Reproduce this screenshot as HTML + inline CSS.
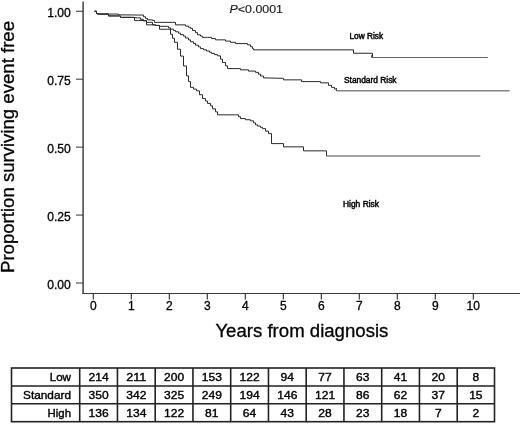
<!DOCTYPE html>
<html lang="en"><head><meta charset="utf-8"><title>Event-free survival by risk group</title>
<style>html,body{margin:0;padding:0;background:#fff}svg{display:block}text{font-family:"Liberation Sans",sans-serif;fill:#000;stroke:#000;stroke-width:.3px}text.t{stroke-width:.38px}</style></head><body>
<svg width="520" height="424" viewBox="0 0 520 424">
<rect width="520" height="424" fill="#fff"/>
<g stroke="#333" stroke-width="1.4" fill="none">
<path d="M83.1 1.5 V294"/>
<path d="M82.4 293.5 H520" stroke-width="1" stroke="#3a3a3a"/>
<path d="M76 11.25 H83" stroke-width="1"/>
<path d="M76 79.19 H83" stroke-width="1"/>
<path d="M76 147.13 H83" stroke-width="1"/>
<path d="M76 215.07 H83" stroke-width="1"/>
<path d="M76 283.01 H83" stroke-width="1"/>
<path d="M93.30 293.5 V299.6" stroke-width="1.1" stroke="#2a2a2a"/>
<path d="M131.30 293.5 V299.6" stroke-width="1.1" stroke="#2a2a2a"/>
<path d="M169.30 293.5 V299.6" stroke-width="1.1" stroke="#2a2a2a"/>
<path d="M207.30 293.5 V299.6" stroke-width="1.1" stroke="#2a2a2a"/>
<path d="M245.30 293.5 V299.6" stroke-width="1.1" stroke="#2a2a2a"/>
<path d="M283.30 293.5 V299.6" stroke-width="1.1" stroke="#2a2a2a"/>
<path d="M321.30 293.5 V299.6" stroke-width="1.1" stroke="#2a2a2a"/>
<path d="M359.30 293.5 V299.6" stroke-width="1.1" stroke="#2a2a2a"/>
<path d="M397.30 293.5 V299.6" stroke-width="1.1" stroke="#2a2a2a"/>
<path d="M435.30 293.5 V299.6" stroke-width="1.1" stroke="#2a2a2a"/>
<path d="M473.30 293.5 V299.6" stroke-width="1.1" stroke="#2a2a2a"/>
</g>
<g stroke="#2a2a2a" stroke-width="1" fill="none" stroke-linejoin="miter">
<path d="M94.50 11.25 L96.50 11.25 L96.50 13.55 L99.50 14.05 L108.50 14.05 L118.50 14.05 L118.50 14.85 L131.50 14.95 L137.50 15.05 L143.50 15.05 L143.50 16.75 L145.50 16.75 L145.50 18.30 L147.50 18.30 L147.50 19.85 L152.50 19.85 L152.50 20.45 L154.50 20.45 L154.50 22.35 L172.50 22.35 L175.50 22.35 L175.50 24.85 L185.50 24.85 L185.50 26.10 L188.50 26.10 L188.50 27.23 L190.50 27.23 L190.50 28.35 L192.50 28.35 L192.50 30.52 L195.50 30.52 L195.50 32.68 L197.50 32.68 L197.50 34.85 L200.50 34.85 L200.50 36.10 L202.50 36.10 L202.50 37.35 L207.50 37.35 L211.50 37.35 L211.50 38.60 L215.50 38.60 L215.50 39.85 L225.50 39.85 L225.50 41.10 L230.50 41.10 L230.50 42.35 L235.50 42.35 L235.50 43.60 L247.50 43.60 L247.50 44.85 L250.50 44.85 L250.50 46.73 L252.50 46.73 L252.50 48.60 L253.50 48.60 L253.50 49.85 L353.50 49.85 L353.50 53.25 L372.50 53.25 L372.50 57.35"/>
<path d="M94.50 11.25 L96.50 11.25 L96.50 13.55 L99.50 14.05 L108.50 14.05 L108.50 15.95 L118.50 15.95 L120.50 15.95 L120.50 17.35 L131.50 17.35 L137.50 17.85 L140.50 17.85 L140.50 19.35 L143.50 19.35 L143.50 20.85 L146.50 20.85 L146.50 22.35 L152.50 22.35 L152.50 24.85 L155.50 24.85 L155.50 25.45 L159.50 25.45 L159.50 26.35 L167.50 26.35 L168.50 26.35 L168.50 27.85 L170.50 27.85 L170.50 29.15 L173.50 29.15 L173.50 30.45 L175.50 30.45 L175.50 31.75 L178.50 31.75 L178.50 33.20 L180.50 33.20 L180.50 34.65 L183.50 34.65 L183.50 36.10 L185.50 36.10 L185.50 37.98 L188.50 37.98 L188.50 39.87 L190.50 39.87 L190.50 41.75 L193.50 41.75 L193.50 43.46 L195.50 43.46 L195.50 45.17 L198.50 45.17 L198.50 46.89 L200.50 46.89 L200.50 48.60 L203.50 48.60 L203.50 49.81 L206.50 49.81 L206.50 51.02 L209.50 51.02 L209.50 52.23 L211.50 52.23 L211.50 53.43 L214.50 53.43 L214.50 54.64 L217.50 54.64 L217.50 55.85 L220.50 55.85 L220.50 59.18 L222.50 59.18 L222.50 62.52 L225.50 62.52 L225.50 65.85 L227.50 65.85 L227.50 68.60 L240.50 68.60 L240.50 69.85 L248.50 69.85 L248.50 71.10 L255.50 71.10 L255.50 72.35 L258.50 72.35 L258.50 74.18 L260.50 74.18 L260.50 76.02 L263.50 76.02 L263.50 77.85 L283.50 78.35 L283.50 79.85 L301.50 79.85 L301.50 81.60 L320.50 81.60 L320.50 82.85 L328.50 82.85 L328.50 85.35 L331.50 85.35 L331.50 87.35 L334.50 87.35 L334.50 88.97 L336.50 88.97 L336.50 90.60"/>
<path d="M94.50 11.25 L96.50 11.25 L96.50 13.55 L99.50 14.05 L108.50 14.05 L108.50 15.95 L118.50 15.95 L120.50 15.95 L120.50 17.35 L131.50 17.35 L134.50 17.35 L134.50 20.45 L138.50 20.45 L146.50 20.45 L146.50 22.35 L146.50 24.85 L152.50 24.85 L155.50 24.85 L155.50 25.45 L159.50 25.45 L159.50 26.35 L159.50 29.25 L167.50 29.25 L170.50 29.25 L170.50 34.25 L172.50 34.25 L172.50 38.30 L174.50 38.30 L174.50 42.35 L177.50 42.35 L177.50 49.23 L180.50 49.23 L180.50 56.10 L183.50 56.10 L183.50 65.97 L186.50 65.97 L186.50 75.85 L188.50 75.85 L188.50 81.60 L190.50 81.60 L190.50 87.35 L193.50 87.35 L193.50 89.10 L196.50 89.10 L196.50 90.85 L199.50 90.85 L199.50 94.72 L202.50 94.72 L202.50 98.60 L205.50 98.60 L205.50 101.02 L207.50 101.02 L207.50 103.43 L210.50 103.43 L210.50 105.85 L212.50 105.85 L212.50 108.85 L215.50 108.85 L215.50 111.85 L217.50 111.85 L217.50 114.85 L235.50 114.85 L238.50 114.85 L238.50 116.72 L240.50 116.72 L240.50 118.60 L245.50 118.60 L245.50 119.72 L250.50 119.72 L250.50 120.85 L253.50 120.85 L253.50 122.85 L255.50 122.85 L255.50 124.85 L257.50 124.85 L257.50 126.10 L260.50 126.10 L260.50 127.35 L262.50 127.35 L262.50 128.60 L265.50 128.60 L265.50 131.10 L268.50 131.10 L268.50 133.60 L271.50 133.60 L271.50 143.60 L283.50 143.60 L283.50 146.85 L303.50 146.85 L303.50 150.85 L326.50 150.85 L326.50 155.65"/>
<path d="M371.50 55.00 V57.50 H487.80" stroke="#666"/>
<path d="M336.50 88.00 V90.85 H509.60" stroke="#4a4a4a"/>
<path d="M326.50 154.00 V156.00 H480.30" stroke="#444"/>
</g>
<text x="47.2" y="16.75" font-size="12" textLength="23.6" lengthAdjust="spacingAndGlyphs">1.00</text>
<text x="47.2" y="84.69" font-size="12" textLength="23.6" lengthAdjust="spacingAndGlyphs">0.75</text>
<text x="47.2" y="152.63" font-size="12" textLength="23.6" lengthAdjust="spacingAndGlyphs">0.50</text>
<text x="47.2" y="220.57" font-size="12" textLength="23.6" lengthAdjust="spacingAndGlyphs">0.25</text>
<text x="47.2" y="288.51" font-size="12" textLength="23.6" lengthAdjust="spacingAndGlyphs">0.00</text>
<text x="93.30" y="309.8" font-size="12" text-anchor="middle">0</text>
<text x="131.30" y="309.8" font-size="12" text-anchor="middle">1</text>
<text x="169.30" y="309.8" font-size="12" text-anchor="middle">2</text>
<text x="207.30" y="309.8" font-size="12" text-anchor="middle">3</text>
<text x="245.30" y="309.8" font-size="12" text-anchor="middle">4</text>
<text x="283.30" y="309.8" font-size="12" text-anchor="middle">5</text>
<text x="321.30" y="309.8" font-size="12" text-anchor="middle">6</text>
<text x="359.30" y="309.8" font-size="12" text-anchor="middle">7</text>
<text x="397.30" y="309.8" font-size="12" text-anchor="middle">8</text>
<text x="435.30" y="309.8" font-size="12" text-anchor="middle">9</text>
<text x="473.30" y="309.8" font-size="12" text-anchor="middle">10</text>
<text x="229.5" y="13.2" font-size="11.4" style="stroke-width:.15px;fill:#1a1a1a;stroke:#1a1a1a" textLength="53.5" lengthAdjust="spacingAndGlyphs"><tspan font-style="italic">P</tspan>&lt;0.0001</text>
<text x="349.4" y="39.1" font-size="8.4" style="stroke-width:.45px" textLength="33.7" lengthAdjust="spacingAndGlyphs">Low Risk</text>
<text x="344" y="83.4" font-size="8.4" style="stroke-width:.45px" textLength="52.5" lengthAdjust="spacingAndGlyphs">Standard Risk</text>
<text x="343" y="206.5" font-size="8.4" style="stroke-width:.45px" textLength="36" lengthAdjust="spacingAndGlyphs">High Risk</text>
<text x="215.4" y="336.8" font-size="18.5" textLength="173" lengthAdjust="spacingAndGlyphs">Years from diagnosis</text>
<text transform="translate(14.1 273) rotate(-90)" font-size="18.5" textLength="252" lengthAdjust="spacingAndGlyphs">Proportion surviving event free</text>
<g stroke="#222" stroke-width="1.6" fill="none">
<rect x="11.50" y="368.00" width="483.00" height="53.70"/>
<path d="M11.50 386.00 H494.50 M11.50 403.70 H494.50"/>
<path d="M79.70 368.00 V421.70"/>
<path d="M117.45 368.00 V421.70"/>
<path d="M155.20 368.00 V421.70"/>
<path d="M192.95 368.00 V421.70"/>
<path d="M230.70 368.00 V421.70"/>
<path d="M268.45 368.00 V421.70"/>
<path d="M306.20 368.00 V421.70"/>
<path d="M343.95 368.00 V421.70"/>
<path d="M381.70 368.00 V421.70"/>
<path d="M419.45 368.00 V421.70"/>
<path d="M457.20 368.00 V421.70"/>
</g>
<text x="49.70" y="380.80" font-size="11.4" class="t" textLength="21.3" lengthAdjust="spacingAndGlyphs">Low</text>
<text x="88.53" y="380.80" font-size="11.4" class="t" textLength="20.1" lengthAdjust="spacingAndGlyphs">214</text>
<text x="126.27" y="380.80" font-size="11.4" class="t" textLength="20.1" lengthAdjust="spacingAndGlyphs">211</text>
<text x="164.02" y="380.80" font-size="11.4" class="t" textLength="20.1" lengthAdjust="spacingAndGlyphs">200</text>
<text x="201.77" y="380.80" font-size="11.4" class="t" textLength="20.1" lengthAdjust="spacingAndGlyphs">153</text>
<text x="239.52" y="380.80" font-size="11.4" class="t" textLength="20.1" lengthAdjust="spacingAndGlyphs">122</text>
<text x="280.62" y="380.80" font-size="11.4" class="t" textLength="13.4" lengthAdjust="spacingAndGlyphs">94</text>
<text x="318.38" y="380.80" font-size="11.4" class="t" textLength="13.4" lengthAdjust="spacingAndGlyphs">77</text>
<text x="356.12" y="380.80" font-size="11.4" class="t" textLength="13.4" lengthAdjust="spacingAndGlyphs">63</text>
<text x="393.88" y="380.80" font-size="11.4" class="t" textLength="13.4" lengthAdjust="spacingAndGlyphs">41</text>
<text x="431.62" y="380.80" font-size="11.4" class="t" textLength="13.4" lengthAdjust="spacingAndGlyphs">20</text>
<text x="472.50" y="380.80" font-size="11.4" class="t" textLength="6.7" lengthAdjust="spacingAndGlyphs">8</text>
<text x="23.00" y="399.00" font-size="11.4" class="t" textLength="48.0" lengthAdjust="spacingAndGlyphs">Standard</text>
<text x="88.53" y="399.00" font-size="11.4" class="t" textLength="20.1" lengthAdjust="spacingAndGlyphs">350</text>
<text x="126.27" y="399.00" font-size="11.4" class="t" textLength="20.1" lengthAdjust="spacingAndGlyphs">342</text>
<text x="164.02" y="399.00" font-size="11.4" class="t" textLength="20.1" lengthAdjust="spacingAndGlyphs">325</text>
<text x="201.77" y="399.00" font-size="11.4" class="t" textLength="20.1" lengthAdjust="spacingAndGlyphs">249</text>
<text x="239.52" y="399.00" font-size="11.4" class="t" textLength="20.1" lengthAdjust="spacingAndGlyphs">194</text>
<text x="277.27" y="399.00" font-size="11.4" class="t" textLength="20.1" lengthAdjust="spacingAndGlyphs">146</text>
<text x="315.02" y="399.00" font-size="11.4" class="t" textLength="20.1" lengthAdjust="spacingAndGlyphs">121</text>
<text x="356.12" y="399.00" font-size="11.4" class="t" textLength="13.4" lengthAdjust="spacingAndGlyphs">86</text>
<text x="393.88" y="399.00" font-size="11.4" class="t" textLength="13.4" lengthAdjust="spacingAndGlyphs">62</text>
<text x="431.62" y="399.00" font-size="11.4" class="t" textLength="13.4" lengthAdjust="spacingAndGlyphs">37</text>
<text x="469.15" y="399.00" font-size="11.4" class="t" textLength="13.4" lengthAdjust="spacingAndGlyphs">15</text>
<text x="47.60" y="416.90" font-size="11.4" class="t" textLength="23.4" lengthAdjust="spacingAndGlyphs">High</text>
<text x="88.53" y="416.90" font-size="11.4" class="t" textLength="20.1" lengthAdjust="spacingAndGlyphs">136</text>
<text x="126.27" y="416.90" font-size="11.4" class="t" textLength="20.1" lengthAdjust="spacingAndGlyphs">134</text>
<text x="164.02" y="416.90" font-size="11.4" class="t" textLength="20.1" lengthAdjust="spacingAndGlyphs">122</text>
<text x="205.12" y="416.90" font-size="11.4" class="t" textLength="13.4" lengthAdjust="spacingAndGlyphs">81</text>
<text x="242.88" y="416.90" font-size="11.4" class="t" textLength="13.4" lengthAdjust="spacingAndGlyphs">64</text>
<text x="280.62" y="416.90" font-size="11.4" class="t" textLength="13.4" lengthAdjust="spacingAndGlyphs">43</text>
<text x="318.38" y="416.90" font-size="11.4" class="t" textLength="13.4" lengthAdjust="spacingAndGlyphs">28</text>
<text x="356.12" y="416.90" font-size="11.4" class="t" textLength="13.4" lengthAdjust="spacingAndGlyphs">23</text>
<text x="393.88" y="416.90" font-size="11.4" class="t" textLength="13.4" lengthAdjust="spacingAndGlyphs">18</text>
<text x="434.97" y="416.90" font-size="11.4" class="t" textLength="6.7" lengthAdjust="spacingAndGlyphs">7</text>
<text x="472.50" y="416.90" font-size="11.4" class="t" textLength="6.7" lengthAdjust="spacingAndGlyphs">2</text>
</svg></body></html>
